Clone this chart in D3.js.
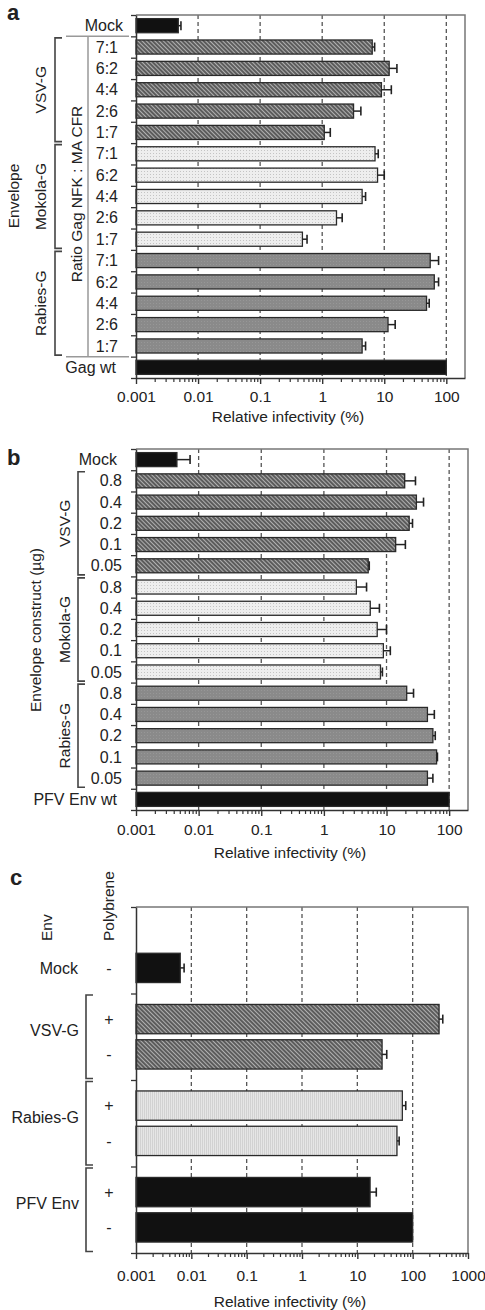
<!DOCTYPE html>
<html>
<head>
<meta charset="utf-8">
<script src="https://cdnjs.cloudflare.com/ajax/libs/d3/7.8.5/d3.min.js"></script>
<style>
body { margin: 0; background: #fff; }
svg text { font-family: "Liberation Sans", Arial, Helvetica, sans-serif; fill: #222; }
</style>
</head>
<body>
<script>
// ---- panel a : ratio Gag NFK : MA CFR
const aLabels = ["Mock", "7:1", "6:2", "4:4", "2:6", "1:7", "7:1", "6:2", "4:4", "2:6", "1:7",
                 "7:1", "6:2", "4:4", "2:6", "1:7", "Gag wt"]
const aGroups = ["mock", "vsv", "vsv", "vsv", "vsv", "vsv", "mokola", "mokola", "mokola", "mokola", "mokola",
                 "rabies", "rabies", "rabies", "rabies", "rabies", "wt"]
const aValues = [0.0048, 6.4, 12, 9, 3.2, 1.08, 7.1, 7.8, 4.4, 1.7, 0.48, 55, 64, 48, 11.5, 4.4, 100]
const aErrHigh = [0.0053, 7, 16, 13, 4.2, 1.35, 8, 10, 5, 2.1, 0.57, 75, 75, 53, 15, 5, null]

// ---- panel b : envelope construct (µg)
const bLabels = ["Mock", "0.8", "0.4", "0.2", "0.1", "0.05", "0.8", "0.4", "0.2", "0.1", "0.05",
                 "0.8", "0.4", "0.2", "0.1", "0.05", "PFV Env wt"]
const bGroups = aGroups
const bValues = [0.0045, 19.5, 30, 23, 14, 5.1, 3.3, 5.5, 7.1, 8.9, 8, 21, 45, 55, 63, 45, 100]
const bErrHigh = [0.0073, 29, 39, 26, 20, 5.3, 4.8, 7.7, 10, 11.5, 8.6, 27, 58, 60, 65, 55, null]

const envNames = { vsv: "VSV-G", mokola: "Mokola-G", rabies: "Rabies-G" }

// ---- panel c : polybrene
const cGroups = ["Mock", "VSV-G", "Rabies-G", "PFV Env"]
const cEnv = ["Mock", "VSV-G", "VSV-G", "Rabies-G", "Rabies-G", "PFV Env", "PFV Env"]
const cPoly = ["-", "+", "-", "+", "-", "+", "-"]
const cValues = [0.0063, 300, 28, 65, 52, 17, 100]
const cErrHigh = [0.0074, 350, 34, 75, 57, 22, null]

const majorTicks = [0.001, 0.01, 0.1, 1, 10, 100]

const svg = d3.select("body").append("svg").attr("width", 485).attr("height", 1310)
const defs = svg.append("defs")

// fill patterns
const hatch = defs.append("pattern").attr("id", "hatch").attr("patternUnits", "userSpaceOnUse")
  .attr("width", 3).attr("height", 3).attr("patternTransform", "rotate(-45)")
hatch.append("rect").attr("width", 3).attr("height", 3).attr("fill", "#b0b0b0")
hatch.append("line").attr("x1", 1).attr("x2", 1).attr("y1", 0).attr("y2", 3).attr("stroke", "#2e2e2e").attr("stroke-width", 1.3)

const dots = defs.append("pattern").attr("id", "dots").attr("patternUnits", "userSpaceOnUse").attr("width", 3).attr("height", 3)
dots.append("rect").attr("width", 3).attr("height", 3).attr("fill", "#eeeeee")
dots.append("rect").attr("width", 1).attr("height", 1).attr("fill", "#c4c4c4")

const grey = defs.append("pattern").attr("id", "grey").attr("patternUnits", "userSpaceOnUse").attr("width", 3).attr("height", 3)
grey.append("rect").attr("width", 3).attr("height", 3).attr("fill", "#8a8a8a")
grey.append("rect").attr("width", 1).attr("height", 1).attr("fill", "#979797")

const vlines = defs.append("pattern").attr("id", "vlines").attr("patternUnits", "userSpaceOnUse").attr("width", 2).attr("height", 4)
vlines.append("rect").attr("width", 2).attr("height", 4).attr("fill", "#e6e6e6")
vlines.append("rect").attr("width", 1).attr("height", 4).attr("fill", "#d2d2d2")

const fillsAB = { mock: "#111", vsv: "url(#hatch)", mokola: "url(#dots)", rabies: "url(#grey)", wt: "#111" }
const fillsC = { "Mock": "#111", "VSV-G": "url(#hatch)", "Rabies-G": "url(#vlines)", "PFV Env": "#111" }

function minorTicks(max) {
  const out = []
  for (const d of [0.001, 0.01, 0.1, 1, 10, 100]) for (let k = 2; k <= 9; k++) if (d * k <= max) out.push(d * k)
  return out
}

function xAxis(g, x, bottom, ticks, minorMax, pad) {
  g.append("g").attr("transform", `translate(0,${bottom})`)
    .call(d3.axisBottom(x).tickValues(minorTicks(minorMax)).tickFormat("").tickSize(4).tickSizeOuter(0))
    .call(a => a.select(".domain").remove())
    .call(a => a.selectAll("line").attr("stroke", "#333").attr("stroke-width", 1.2))
  g.append("g").attr("transform", `translate(0,${bottom})`)
    .call(d3.axisBottom(x).tickValues(ticks).tickFormat(d => String(d)).tickSize(6).tickSizeOuter(0).tickPadding(pad))
    .call(a => a.select(".domain").attr("stroke", "#333").attr("stroke-width", 1.5))
    .call(a => a.selectAll("line").attr("stroke", "#333").attr("stroke-width", 1.4))
    .call(a => a.selectAll("text").attr("font-size", 15.5).attr("font-family", null).attr("fill", "#222"))
}

function errorBars(g, x, yc, vals, errs) {
  const idx = d3.range(vals.length).filter(i => errs[i] != null)
  g.selectAll(null).data(idx).join("line")
    .attr("x1", i => x(vals[i])).attr("x2", i => x(errs[i]))
    .attr("y1", i => yc(i)).attr("y2", i => yc(i))
    .attr("stroke", "#222").attr("stroke-width", 1.5)
  g.selectAll(null).data(idx).join("line")
    .attr("x1", i => x(errs[i])).attr("x2", i => x(errs[i]))
    .attr("y1", i => yc(i) - 4.5).attr("y2", i => yc(i) + 4.5)
    .attr("stroke", "#222").attr("stroke-width", 1.6)
}

function grid(g, x, vals, top, bottom) {
  g.selectAll(null).data(vals).join("line")
    .attr("x1", d => x(d)).attr("x2", d => x(d)).attr("y1", top).attr("y2", bottom)
    .attr("stroke", "#555").attr("stroke-width", 1.3).attr("stroke-dasharray", "4,3")
}

function bracket(g, x, y0, y1) {
  g.append("path").attr("d", `M${x + 7},${y0}H${x}V${y1}H${x + 7}`)
    .attr("fill", "none").attr("stroke", "#444").attr("stroke-width", 1.6)
}

function vtext(g, x, y, text, anchor) {
  g.append("text").attr("transform", `translate(${x},${y}) rotate(-90)`)
    .attr("text-anchor", anchor || "middle").attr("dy", "0.35em").attr("font-size", 15.5).text(text)
}

// panels a and b share a layout
function rowPanel(o) {
  const g = svg.append("g")
  const n = o.values.length
  const x = d3.scaleLog().domain([0.001, 200]).range([o.left, o.right])
  const y = d3.scaleBand().domain(d3.range(n)).range([o.top, o.bottom]).paddingInner(0.34).paddingOuter(0.17)
  const yb = d3.scaleLinear().domain([0, n]).range([o.top, o.bottom])

  grid(g, x, [0.01, 0.1, 1, 10, 100], o.top, o.bottom)
  g.append("path").attr("d", `M${o.left},${o.top}H${o.right}V${o.bottom}`)
    .attr("fill", "none").attr("stroke", "#777").attr("stroke-width", 1.5)

  g.selectAll(null).data(o.values).join("rect")
    .attr("x", o.left).attr("y", (d, i) => y(i))
    .attr("width", d => x(d) - o.left).attr("height", y.bandwidth())
    .attr("fill", (d, i) => fillsAB[o.groups[i]]).attr("stroke", "#2a2a2a").attr("stroke-width", 1.3)
  errorBars(g, x, i => y(i) + y.bandwidth() / 2, o.values, o.errHigh)

  xAxis(g, x, o.bottom, majorTicks, 100, o.pad)
  g.append("g").attr("transform", `translate(${o.left},0)`)
    .call(d3.axisLeft(yb).tickValues(d3.range(n + 1)).tickFormat("").tickSize(5).tickSizeOuter(0))
    .call(a => a.select(".domain").attr("stroke", "#333").attr("stroke-width", 1.5))
    .call(a => a.selectAll("line").attr("stroke", "#333").attr("stroke-width", 1.3))

  g.selectAll(null).data(o.labels).join("text")
    .attr("x", (d, i) => o.labelX(o.groups[i]))
    .attr("y", (d, i) => y(i) + y.bandwidth() / 2)
    .attr("dy", "0.35em").attr("text-anchor", "end").attr("font-size", 16).text(d => d)

  for (const grp of ["vsv", "mokola", "rabies"]) {
    const rows = d3.range(n).filter(i => o.groups[i] === grp)
    const y0 = yb(rows[0]) + 1.5, y1 = yb(rows[rows.length - 1] + 1) - 1.5
    bracket(g, o.bracketX, y0, y1)
    vtext(g, o.groupX, (y0 + y1) / 2, envNames[grp])
  }

  g.append("text").attr("x", o.titleX).attr("y", o.bottom + o.titleDy)
    .attr("text-anchor", "middle").attr("font-size", 15.5).text("Relative infectivity (%)")
  g.append("text").attr("x", 7).attr("y", o.letterY)
    .attr("font-size", 22).attr("font-weight", "bold").attr("fill", "#111").text(o.letter)
  return { g, yb }
}

const pa = rowPanel({
  letter: "a", letterY: 20, labels: aLabels, groups: aGroups, values: aValues, errHigh: aErrHigh,
  left: 136, right: 465, top: 15, bottom: 378, pad: 7, titleX: 288, titleDy: 44,
  labelX: g => g === "mock" ? 123 : g === "wt" ? 116 : 118,
  bracketX: 55, groupX: 41
})
// ratio bracket line and separators
pa.g.append("path")
  .attr("d", `M66,${pa.yb(1)}H129M88,${pa.yb(1)}V${pa.yb(16)}M66,${pa.yb(16)}H129`)
  .attr("fill", "none").attr("stroke", "#999").attr("stroke-width", 1.5)
vtext(pa.g, 77, 194, "Ratio Gag NFK : MA CFR")
vtext(pa.g, 14, 196, "Envelope")

const pb = rowPanel({
  letter: "b", letterY: 465, labels: bLabels, groups: bGroups, values: bValues, errHigh: bErrHigh,
  left: 136, right: 468, top: 449, bottom: 810, pad: 8, titleX: 290, titleDy: 48,
  labelX: g => g === "mock" || g === "wt" ? 117 : 122,
  bracketX: 78, groupX: 65
})
vtext(pb.g, 36, 630, "Envelope construct (\u00b5g)")

// ---- panel c
{
  const g = svg.append("g")
  const left = 136, right = 468, top = 907, bottom = 1253
  const x = d3.scaleLog().domain([0.001, 1000]).range([left, right])
  const yg = d3.scaleBand().domain(cGroups).range([top, bottom])
  const yi = d3.scaleBand().domain(["+", "-"]).range([0, yg.bandwidth()]).paddingInner(0.17).paddingOuter(0.31)
  const yb = d3.scaleLinear().domain([0, cGroups.length]).range([top, bottom])
  const yTop = i => yg(cEnv[i]) + yi(cPoly[i])
  const yMid = i => yTop(i) + yi.bandwidth() / 2

  grid(g, x, [0.01, 0.1, 1, 10, 100], top, bottom)
  g.append("path").attr("d", `M${left},${top}H${right}V${bottom}`)
    .attr("fill", "none").attr("stroke", "#777").attr("stroke-width", 1.5)

  g.selectAll(null).data(cValues).join("rect")
    .attr("x", left).attr("y", (d, i) => yTop(i))
    .attr("width", d => x(d) - left).attr("height", yi.bandwidth())
    .attr("fill", (d, i) => fillsC[cEnv[i]]).attr("stroke", "#2a2a2a").attr("stroke-width", 1.3)
  errorBars(g, x, yMid, cValues, cErrHigh)

  xAxis(g, x, bottom, majorTicks.concat([1000]), 1000, 11)
  g.append("g").attr("transform", `translate(${left},0)`)
    .call(d3.axisLeft(yb).tickValues(d3.range(cGroups.length + 1)).tickFormat("").tickSize(5).tickSizeOuter(0))
    .call(a => a.select(".domain").attr("stroke", "#333").attr("stroke-width", 1.5))
    .call(a => a.selectAll("line").attr("stroke", "#333").attr("stroke-width", 1.3))

  g.selectAll(null).data(cPoly).join("text")
    .attr("x", 109).attr("y", (d, i) => yMid(i)).attr("dy", "0.35em")
    .attr("text-anchor", "middle").attr("font-size", 16).text(d => d)

  g.append("text").attr("x", 78).attr("y", yMid(0)).attr("dy", "0.35em")
    .attr("text-anchor", "end").attr("font-size", 16).text(cEnv[0])
  for (const grp of cGroups.slice(1)) {
    const y0 = yg(grp), y1 = y0 + yg.bandwidth()
    bracket(g, 86, y0 + 1.5, y1 - 1.5)
    g.append("text").attr("x", 79).attr("y", (y0 + y1) / 2 - 6).attr("dy", "0.35em")
      .attr("text-anchor", "end").attr("font-size", 16).text(grp)
  }

  vtext(g, 47, 941, "Env", "start")
  vtext(g, 109, 941, "Polybrene", "start")
  g.append("text").attr("x", 290).attr("y", 1307).attr("text-anchor", "middle")
    .attr("font-size", 15.5).text("Relative infectivity (%)")
  g.append("text").attr("x", 10).attr("y", 885)
    .attr("font-size", 22).attr("font-weight", "bold").attr("fill", "#111").text("c")
}
</script>
</body>
</html>
